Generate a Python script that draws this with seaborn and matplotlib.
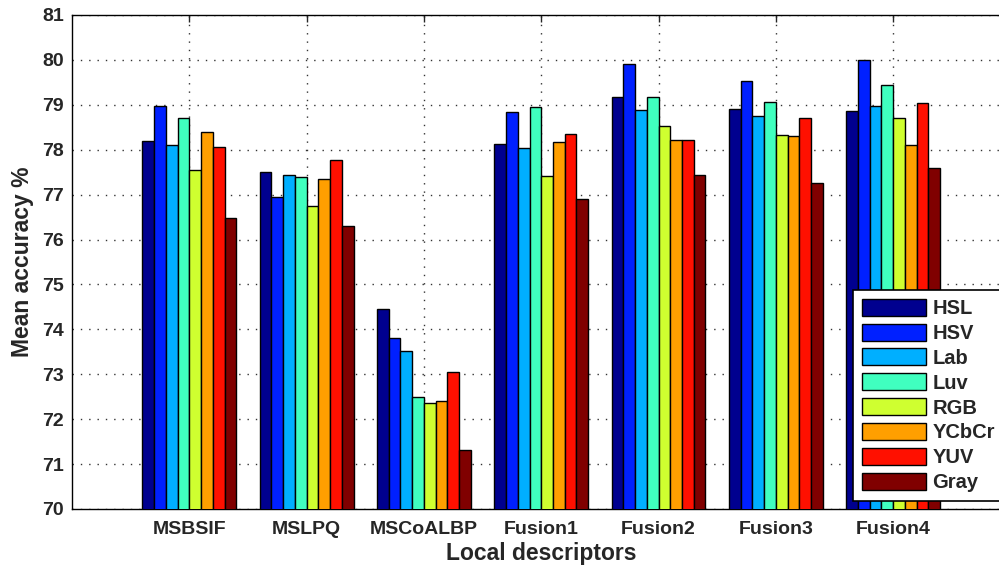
import pandas as pd
import matplotlib.pyplot as plt
import seaborn as sns

# Data
descriptors = ["MSBSIF", "MSLPQ", "MSCoALBP", "Fusion1", "Fusion2", "Fusion3", "Fusion4"]
spaces = ["HSL", "HSV", "Lab", "Luv", "RGB", "YCbCr", "YUV", "Gray"]

hsl = [78.19, 77.50, 74.45, 78.13, 79.18, 78.91, 78.86]
hsv = [78.97, 76.94, 73.80, 78.84, 79.91, 79.54, 80.00]
lab = [78.11, 77.44, 73.51, 78.04, 78.88, 78.76, 78.97]
luv = [78.70, 77.40, 72.50, 78.96, 79.18, 79.06, 79.44]
rgb = [77.55, 76.75, 72.35, 77.42, 78.53, 78.33, 78.71]
ycbcr = [78.40, 77.35, 72.41, 78.18, 78.21, 78.31, 78.11]
yuv = [78.05, 77.76, 73.04, 78.34, 78.21, 78.71, 79.05]
gray = [76.49, 76.30, 71.32, 76.91, 77.43, 77.27, 77.59]

series = [hsl, hsv, lab, luv, rgb, ycbcr, yuv, gray]
rows = []
for name, vals in zip(spaces, series):
    for d, v in zip(descriptors, vals):
        rows.append({"descriptor": d, "space": name, "acc": v})
df = pd.DataFrame(rows)

# jet-like colours (MATLAB jet(8))
colors = ["#00008F", "#0020FF", "#00AFFF", "#40FFBF",
          "#CFFF30", "#FF9F00", "#FF1000", "#800000"]

sns.set_style("white")
plt.rcParams["font.family"] = ["Liberation Sans", "DejaVu Sans"]
plt.rcParams["font.weight"] = "bold"

fig = plt.figure(figsize=(9.99, 5.68), dpi=100)
ax = fig.add_axes([0.0721, 0.1039, 0.9394, 0.8697])

sns.barplot(
    data=df,
    x="descriptor",
    y="acc",
    hue="space",
    order=descriptors,
    hue_order=spaces,
    palette=colors,
    width=0.8,
    edgecolor="black",
    linewidth=1.0,
    saturation=1,
    ax=ax,
    zorder=3
)

ax.set_xlim(-1, 7)
ax.set_ylim(70, 81)
ax.set_yticks(range(70, 82))
ax.set_xlabel("Local descriptors", fontsize=16.5, weight="bold")
ax.set_ylabel("Mean accuracy %", fontsize=16.5, weight="bold")
ax.xaxis.set_label_coords(0.5, -0.066)
ax.yaxis.set_label_coords(-0.040, 0.5)
ax.tick_params(axis="both", direction="in", length=5, labelsize=14,
               top=True, right=True, width=1)
ax.tick_params(axis="x", pad=9)
ax.tick_params(axis="y", pad=6)
for lab_ in ax.get_xticklabels() + ax.get_yticklabels():
    lab_.set_fontweight("bold")

ax.grid(True, linestyle=(0, (1, 5)), color="#333333", linewidth=1.0, zorder=0)
ax.set_axisbelow(True)
for s in ax.spines.values():
    s.set_visible(True)
    s.set_color("black")
    s.set_linewidth(1.0)

leg = ax.legend(
    loc="upper left",
    bbox_to_anchor=(0.854, 0.121, 0.2, 0.368),
    bbox_transform=fig.transFigure,
    mode="expand",
    borderaxespad=0,
    prop={"weight": "bold", "size": 14.5},
    handlelength=3.2,
    handleheight=0.92,
    labelspacing=0.27,
    handletextpad=0.32,
    borderpad=0.42,
    fancybox=False,
    framealpha=1,
    edgecolor="black",
)
leg.get_frame().set_linewidth(1.2)

plt.savefig("out.png", dpi=100)
